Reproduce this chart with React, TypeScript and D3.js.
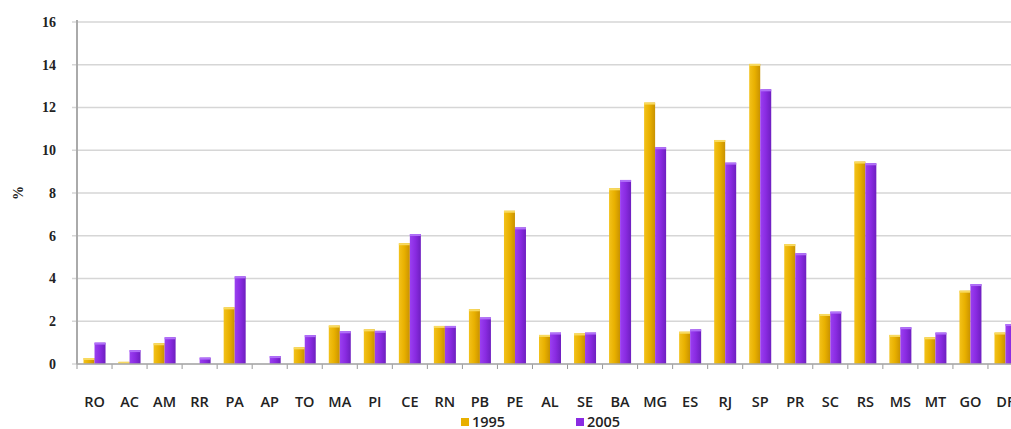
import React from "react";
import * as d3 from "d3";

const categories = ["RO","AC","AM","RR","PA","AP","TO","MA","PI","CE","RN","PB","PE","AL","SE","BA","MG","ES","RJ","SP","PR","SC","RS","MS","MT","GO","DF"];
const values1995 = [0.28,0.1,0.97,0,2.65,0,0.78,1.8,1.62,5.65,1.78,2.56,7.17,1.36,1.43,8.22,12.23,1.51,10.48,14.04,5.61,2.34,9.47,1.36,1.25,3.43,1.47];
const values2005 = [1.0,0.65,1.25,0.3,4.1,0.37,1.35,1.53,1.55,6.08,1.78,2.18,6.39,1.47,1.47,8.61,10.14,1.62,9.42,12.85,5.18,2.45,9.39,1.72,1.47,3.74,1.87];
const yTicks = [0,2,4,6,8,10,12,14,16];
const seriesNames = ["1995","2005"];
const seriesColors = ["#E8B000","#8A2BE2"];

export default function App() {
  const W = 1011, H = 429;
  const left = 77, right = 1023, top = 22, bottom = 364;
  const x = d3.scaleBand<string>().domain(categories).range([left, right]);
  const y = d3.scaleLinear().domain([0, 16]).range([bottom, top]);
  const bw = 11;
  const series = [values1995, values2005];
  return (
    <svg width={W} height={H} style={{ position: "absolute", left: 0, top: 0, background: "#fff" }}>
      <defs>
        <linearGradient id="g0" x1="0" x2="1" y1="0" y2="0">
          <stop offset="0" stopColor="#F3C21A" />
          <stop offset="0.5" stopColor="#E8B000" />
          <stop offset="1" stopColor="#C99200" />
        </linearGradient>
        <linearGradient id="g1" x1="0" x2="1" y1="0" y2="0">
          <stop offset="0" stopColor="#9A40F0" />
          <stop offset="0.5" stopColor="#8A2BE2" />
          <stop offset="1" stopColor="#6E1FC0" />
        </linearGradient>
      </defs>
      {yTicks.map(t => (
        <g key={t}>
          <line x1={left - 5} x2={W} y1={y(t)} y2={y(t)} stroke="#d6d6d6" strokeWidth={1.5} />
          <text x={56} y={y(t)} dy="0.35em" textAnchor="end" fontFamily="Liberation Serif, serif" fontWeight="bold" fontSize={14} fill="#222">{t}</text>
        </g>
      ))}
      <text transform={`translate(18,193) rotate(-90)`} textAnchor="middle" dy="0.35em" fontFamily="Liberation Serif, serif" fontWeight="bold" fontSize={14} fill="#222">%</text>
      {categories.map((c, i) => {
        const cx = (x(c) as number) + x.bandwidth() / 2;
        return (
          <g key={c}>
            {series.map((s, k) => {
              const v = s[i];
              if (v <= 0) return null;
              const bx = cx - bw + k * bw;
              return (
                <g key={k}>
                  <rect x={bx} y={y(v)} width={bw} height={bottom - y(v)} fill={`url(#g${k})`} />
                  <rect x={bx} y={y(v)} width={bw} height={2} fill={k === 0 ? "#F8DA60" : "#B070F8"} />
                </g>
              );
            })}
            <text x={cx} y={407} textAnchor="middle" fontFamily="Open Sans, sans-serif" fontWeight={600} fontSize={14.5} fill="#222">{c}</text>
          </g>
        );
      })}
      {d3.range(categories.length + 1).map(i => {
        const tx = left + i * x.step();
        return <line key={i} x1={tx} x2={tx} y1={bottom} y2={bottom + 5} stroke="#999" strokeWidth={1} />;
      })}
      <line x1={left} x2={W} y1={bottom} y2={bottom} stroke="#aaa" strokeWidth={1.5} />
      <line x1={left} x2={left} y1={top - 2} y2={bottom} stroke="#aaa" strokeWidth={2} />
      {seriesNames.map((n, k) => (
        <g key={n}>
          <rect x={461 + k * 115} y={418} width={8} height={8} fill={seriesColors[k]} />
          <text x={472 + k * 115} y={427} fontFamily="Open Sans, sans-serif" fontWeight={600} fontSize={14.5} fill="#222">{n}</text>
        </g>
      ))}
    </svg>
  );
}
